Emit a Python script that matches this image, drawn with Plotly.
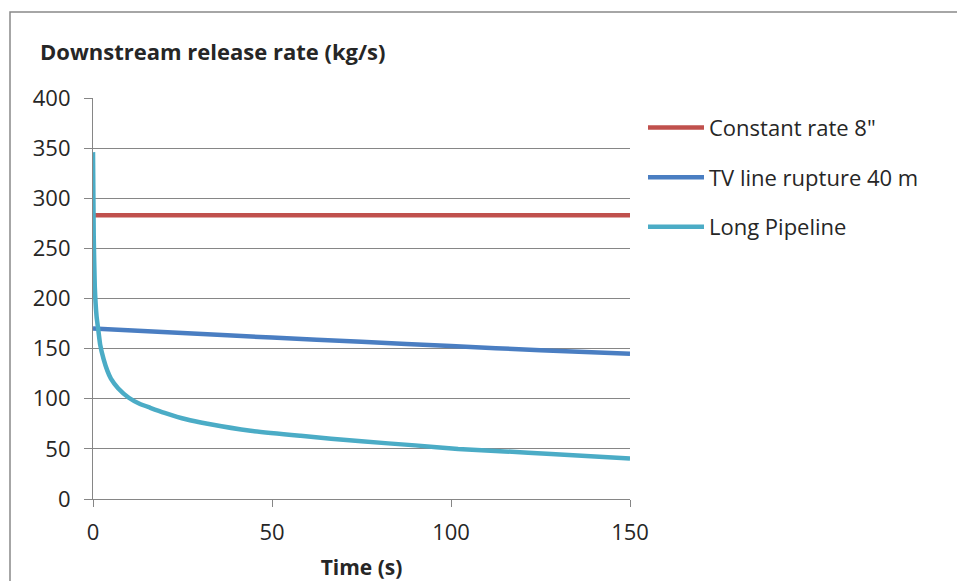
import plotly.graph_objects as go

# ---- data ----
const_t = [0, 150]
const_rate = [283, 283]

tv_t = [0, 25, 50, 75, 100, 125, 150]
tv_rate = [170, 165.5, 161, 156.8, 152.5, 148.5, 144.8]

lp_t = [0, 0.2, 0.5, 1, 1.5, 2, 3, 4, 5, 7, 10, 13, 16, 20, 26, 32, 44, 58, 75, 90, 102, 115, 128, 150]
lp_rate = [346, 262, 212, 182, 168, 154, 139, 128, 120, 110.5, 101, 95, 91, 86, 79.5, 75, 68, 63, 57.5, 53.5, 50, 47.5, 45, 40.5]

x_ticks = [0, 50, 100, 150]
y_ticks = [0, 50, 100, 150, 200, 250, 300, 350, 400]

names = ["Constant rate 8\"", "TV line rupture 40 m", "Long Pipeline"]
colors = ["#C0504D", "#4A7EC2", "#4BACC6"]

FONT = "Open Sans"
TXT = "#262626"

fig = go.Figure()
series = [(const_t, const_rate), (tv_t, tv_rate), (lp_t, lp_rate)]
for i, ((t, v), n, c) in enumerate(zip(series, names, colors)):
    fig.add_trace(go.Scatter(
        x=t, y=v, mode="lines", name=n, legendgroup=f"g{i}",
        line=dict(color=c, width=4.5, shape="spline", smoothing=0.4),
    ))

fig.update_layout(
    width=957, height=581,
    margin=dict(l=93, r=327, t=98, b=82),
    paper_bgcolor="white", plot_bgcolor="white",
    font=dict(family=FONT, size=22, color=TXT),
    showlegend=True,
    legend=dict(
        x=(643 - 93) / 537, xanchor="left", y=0.978, yanchor="top",
        font=dict(family=FONT, size=22, color=TXT),
        tracegroupgap=18, traceorder="grouped",
        bgcolor="rgba(0,0,0,0)", itemwidth=56,
    ),
    xaxis=dict(
        range=[0, 150], tickvals=x_ticks, showgrid=False, zeroline=False,
        showline=True, linecolor="#868686", linewidth=1.2, automargin=False,
        ticks="outside", ticklen=7, tickcolor="#868686", tickwidth=1.2,
        tickfont=dict(family=FONT, size=22, color=TXT),
        ticklabelstandoff=6,
        title=dict(text="<b>Time (s)</b>", font=dict(family=FONT, size=21, color=TXT), standoff=15),
    ),
    yaxis=dict(
        range=[0, 400], tickvals=y_ticks, showgrid=True, gridcolor="#868686", gridwidth=1.2,
        zeroline=False, showline=True, linecolor="#868686", linewidth=1.2, automargin=False,
        ticks="outside", ticklen=8, tickcolor="#868686", tickwidth=1.2,
        tickfont=dict(family=FONT, size=22, color=TXT),
        ticklabelstandoff=9,
    ),
    annotations=[dict(
        text="<b>Downstream release rate (kg/s)</b>", xref="paper", yref="paper",
        x=(38 - 93) / 537, y=(499 - 51) / 401, xanchor="left", yanchor="middle",
        showarrow=False, font=dict(family=FONT, size=22, color=TXT),
    )],
    shapes=[dict(
        type="rect", xref="paper", yref="paper",
        x0=(10 - 93) / 537, x1=(975 - 93) / 537,
        y0=(499 - 600) / 401, y1=(499 - 12) / 401,
        line=dict(color="#898989", width=1.5), fillcolor="rgba(0,0,0,0)", layer="below",
    )],
)

fig.write_html(
    "out.html",
    config={"displayModeBar": False},
    post_script="document.body.style.margin='0';document.body.style.overflow='hidden';",
)
